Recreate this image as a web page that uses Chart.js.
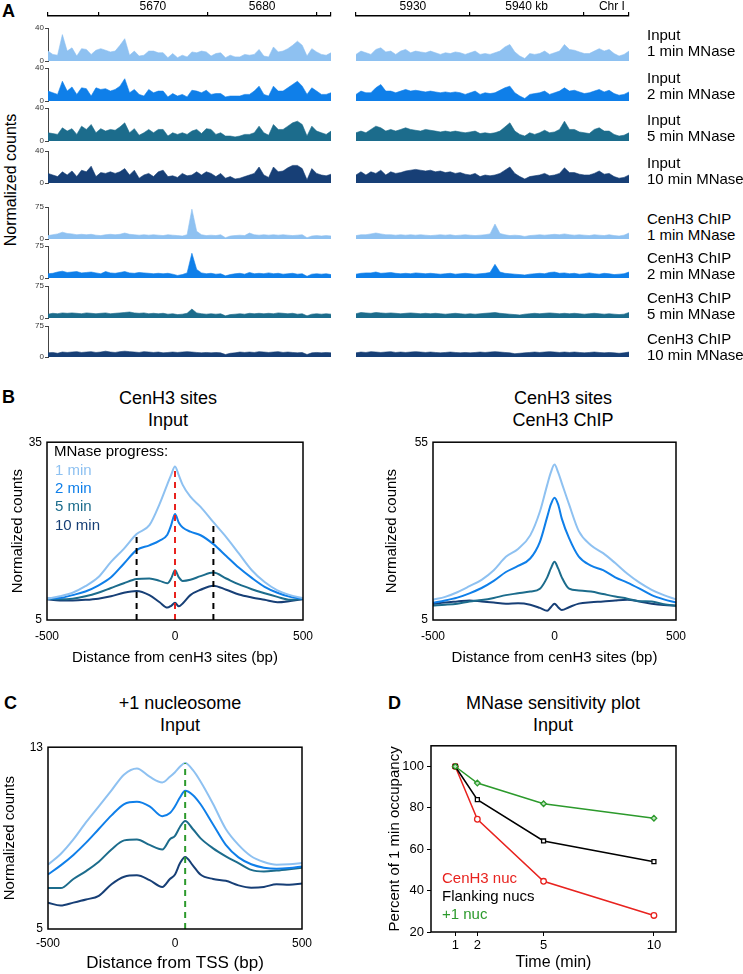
<!DOCTYPE html>
<html>
<head>
<meta charset="utf-8">
<title>MNase sensitivity of CenH3 nucleosomes</title>
<script src="https://cdn.jsdelivr.net/npm/chart.js@4.4.1/dist/chart.umd.min.js"></script>
<style>
  body { margin: 0; background: #fff; font-family: 'Liberation Sans', Arial, Helvetica, sans-serif; }
  #figure { position: relative; width: 743px; height: 974px; overflow: hidden; background: #fff; }
  #figure canvas { position: absolute; }
  .txt { position: absolute; white-space: nowrap; line-height: 1; color: #000; }
</style>
</head>
<body>
<div id="figure"></div>
<script>
// ---------- data ----------

// panel A: genome browser tracks (normalized counts per bin)
const inputTrackTicks = [0, 40];
const chipTrackTicks = [0, 75];

const leftInput1 = [12,8,7,32,12,16,6,15,14,8, 13,15,13,11,12,19,27,7,12,6, 7,12,12,10,10,4,9,4,7,5, 11,10,12,11,6,9,10,4,7,5, 5,8,7,8,14,6,5,17,11,12, 15,19,24,19,6,15,11,8,7,10];
const leftInput2 = [12,10,8,24,12,17,8,16,15,6, 16,14,15,12,14,18,27,10,14,8, 6,14,10,12,12,5,9,6,8,5, 13,12,10,13,8,9,9,5,6,6, 6,8,8,12,18,8,6,18,12,12, 16,20,24,18,8,16,12,8,8,10];
const leftInput5 = [10,9,8,16,12,15,8,18,14,20, 10,15,12,14,13,17,22,10,15,7, 10,14,10,14,14,6,10,8,10,8, 12,14,9,15,14,8,10,6,6,5, 6,8,8,10,18,10,7,20,14,14, 18,22,24,20,6,18,12,10,8,12];
const leftInput10 = [12,10,8,14,10,15,8,16,14,21, 8,13,12,14,12,14,18,10,16,6, 10,12,8,14,16,8,9,7,12,9, 10,14,10,14,12,8,12,6,8,5, 6,8,10,12,20,10,7,20,14,15, 19,22,22,18,4,18,12,10,9,11];

const rightInput1 = [8,12,10,8,14,16,11,12,8,12, 14,10,12,11,10,12,10,8,10,9, 11,10,8,10,12,8,9,8,10,12, 17,20,11,6,3,9,8,9,12,8, 10,12,20,14,13,11,9,9,12,15, 12,14,9,6,8,12];
const rightInput2 = [8,12,10,10,16,20,12,12,10,12, 14,12,13,12,11,12,11,10,11,10, 11,10,8,10,12,8,10,9,10,13, 16,18,10,6,3,8,9,10,12,8, 10,12,16,12,13,11,9,10,12,14, 11,13,9,7,8,11];
const rightInput5 = [10,12,10,14,18,16,12,14,12,14, 16,14,13,12,14,13,12,11,12,11, 12,11,10,11,12,9,10,9,10,12, 17,22,12,8,6,10,8,10,13,10, 11,14,24,14,14,11,10,9,14,16, 12,12,8,6,7,10];
const rightInput10 = [10,14,10,14,12,16,10,14,12,13, 15,16,17,16,15,16,14,15,13,14, 12,13,11,10,12,8,10,9,10,12, 16,20,12,8,5,8,9,10,12,9, 10,12,19,13,13,11,10,10,12,15, 11,12,8,6,7,10];

const leftChip1 = [8,10,12,16,13,12,10,11,10,11, 9,8,10,11,10,11,14,11,10,9, 10,9,10,9,8,10,9,8,7,10, 70,18,10,8,9,8,10,3,7,8, 9,8,14,10,9,10,9,10,9,10, 9,8,9,10,3,7,8,7,8,7];
const leftChip2 = [10,11,14,16,13,14,15,12,13,14, 12,10,15,12,11,13,15,12,11,13, 12,11,10,11,10,11,9,6,8,12, 58,20,12,10,11,9,10,5,8,10, 11,9,13,10,11,10,12,10,11,9, 10,11,9,10,4,9,10,9,10,8];
const leftChip5 = [9,11,10,12,11,12,11,10,12,11, 10,11,12,10,11,12,13,14,12,11, 12,10,11,10,11,9,10,8,9,11, 21,12,10,9,10,9,10,5,8,9, 10,9,11,10,11,10,11,10,12,11, 10,11,9,10,5,9,10,9,10,9];
const leftChip10 = [10,11,9,12,11,12,13,11,12,13, 11,12,14,12,11,13,14,13,12,11, 13,12,11,12,10,11,12,11,12,13, 12,11,10,11,10,11,10,6,9,10, 12,11,12,11,13,12,11,12,13,11, 12,11,10,11,6,10,11,10,11,10];

const rightChip1 = [8,10,10,12,14,12,10,10,9,10, 9,10,9,10,9,8,9,10,9,10, 8,9,10,9,8,9,10,12,35,13, 10,8,9,8,6,8,9,10,9,10, 11,10,12,10,9,10,9,8,10,9, 8,10,8,7,9,14];
const rightChip2 = [9,11,12,12,14,11,12,13,11,10, 11,10,12,11,10,11,10,9,10,11, 9,10,11,10,9,10,11,13,32,14, 11,10,9,8,7,9,10,11,10,13, 14,11,12,10,11,9,10,12,10,9, 11,10,8,9,10,14];
const rightChip5 = [10,13,12,11,13,12,11,12,11,10, 11,12,11,10,11,10,11,10,9,10, 11,10,9,10,9,10,11,12,13,11, 10,9,8,7,9,10,11,10,11,12, 11,10,11,10,11,10,9,10,11,10, 9,10,9,8,9,13];
const rightChip10 = [10,12,11,13,12,11,12,13,11,12, 11,12,13,12,11,12,11,10,11,12, 11,10,11,10,11,12,11,12,13,12, 11,10,8,9,10,11,12,11,12,13, 12,11,12,11,12,11,10,11,12,11, 10,11,10,9,10,12];

// chromosome ruler (kb)
const rulerLeftRange = [5660.4, 5686.3];
const rulerLeftMarks = [5660.4, 5665, 5675, 5685, 5686.3];
const rulerLeftLabelPos = [5670, 5680];
const rulerLeftLabelText = ['5670', '5680'];
const rulerRightRange = [5925, 5949];
const rulerRightMarks = [5925, 5935, 5945, 5949];
const rulerRightLabelPos = [5930, 5940, 5947.5];
const rulerRightLabelText = ['5930', '5940 kb', 'Chr I'];

const mnaseTimes = ['1 min', '2 min', '5 min', '10 min'];

// panel B: average profiles around cenH3 sites
const cenPositions = [-500,-450,-400,-350,-300,-250,-200,-150,-100,-60,-30,-15,0,15,30,60,100,150,200,250,300,350,400,450,500];
const cenInput1 = [8.6,9.0,9.6,10.7,12.2,14.8,17.0,19.5,21.0,24.6,27.9,29.5,30.9,29.4,27.8,25.8,24.1,21.5,19.0,16.2,13.4,11.4,10.0,9.2,8.7];
const cenInput2 = [8.6,8.7,9.2,9.8,10.8,12.2,14.5,16.8,17.6,18.4,19.4,21.0,22.9,21.4,20.6,19.9,19.3,17.8,15.8,13.8,12.1,10.6,9.6,8.9,8.6];
const cenInput5 = [8.6,8.5,8.6,9.0,9.6,10.4,11.2,11.9,12.0,11.6,11.2,12.0,13.4,12.2,11.6,11.8,12.4,13.0,12.0,11.0,10.2,9.5,8.9,8.4,8.6];
const cenInput10 = [8.5,8.3,8.3,8.4,8.6,9.0,9.6,9.9,9.2,8.0,7.1,7.4,7.9,7.3,7.8,9.2,10.1,10.8,10.1,9.3,8.8,8.4,8.0,8.2,8.5];
const cenChip1 = [10.7,11.5,12.8,14.5,16.3,19.0,22.8,25.0,28.8,35.5,43.0,46.5,48.7,46.5,43.5,37.5,30.0,26.0,23.8,21.0,18.0,15.5,13.5,12.0,10.8];
const cenChip2 = [9.9,10.5,11.3,12.5,14.0,16.0,18.5,20.2,22.3,27.0,34.0,37.5,39.4,37.5,33.5,28.0,22.8,20.3,19.0,17.0,15.5,13.8,12.0,10.8,9.9];
const cenChip5 = [9.1,9.3,9.6,10.2,10.6,11.2,12.0,12.5,13.0,13.8,17.0,19.5,21.4,19.5,17.0,13.8,13.3,13.0,12.3,11.6,11.0,10.3,10.2,9.4,9.1];
const cenChip10 = [9.5,9.9,10.2,10.5,10.2,9.9,9.6,9.7,9.3,8.4,7.6,8.6,9.6,8.6,7.8,8.6,9.6,10.0,10.2,10.5,10.7,10.2,9.6,9.2,9.0];
const cenInputYTicks = [5, 35];
const cenChipYTicks = [5, 55];
const cenMark = 0;
const flankMarks = [-150, 150];

// panel C: average profiles around TSS
const tssPositions = [-500,-450,-400,-350,-300,-250,-200,-150,-100,-50,-20,0,20,40,70,100,150,200,250,300,350,400,450,500];
const tss1 = [7.83,8.3,8.94,9.7,10.4,11.1,11.8,12.06,11.7,11.45,11.7,11.9,12.15,12.3,12.0,11.5,10.5,9.4,8.7,8.2,7.95,7.83,7.85,7.9];
const tss2 = [7.4,7.8,8.26,8.8,9.4,10.0,10.5,10.6,10.4,9.96,10.1,10.4,10.8,11.08,10.9,10.5,9.6,8.7,8.15,7.85,7.7,7.65,7.68,7.75];
const tss5 = [6.8,6.8,7.2,7.55,7.96,8.5,8.9,8.94,8.7,8.5,8.95,9.1,9.5,9.75,9.4,9.0,8.55,8.2,7.9,7.6,7.53,7.57,7.63,7.7];
const tss10 = [6.16,6.03,6.16,6.3,6.46,6.97,7.3,7.36,7.15,6.85,7.2,7.4,7.9,8.17,7.8,7.4,7.2,7.12,6.92,6.82,6.85,6.97,6.95,7.0];
const tssYTicks = [5, 13];
const plusOneMark = 40;
const profileXTicks = [-500, 0, 500];

// panel D: MNase sensitivity
const timePoints = [1, 2, 5, 10];
const cenH3Occupancy = [100, 74.5, 44.5, 28];
const flankingOccupancy = [100, 84, 64, 54];
const plusOneOccupancy = [100, 92, 82, 75];
const occupancyYTicks = [20, 40, 60, 80, 100];
const sensitivityLabels = ['CenH3 nuc', 'Flanking nucs', '+1 nuc'];

(function(){

    const FONT = "'Liberation Sans', Arial, Helvetica, sans-serif";
    const mnaseColors = ['#8ec1f1', '#0f7fe9', '#1c6c8c', '#173f76'];
    const sensColors = ['#e8231f', '#000000', '#2c9a2c'];

    var _figure = undefined;

    // full black frame round the plot area
    const _boxPlugin = {
        id: 'box',
        afterDatasetsDraw(chart){
            let a = chart.chartArea;
            let ctx = chart.ctx;
            ctx.save();
            ctx.strokeStyle = '#000';
            ctx.lineWidth = 1.5;
            ctx.strokeRect(a.left, a.top, a.right - a.left, a.bottom - a.top);
            ctx.restore();
        }
    };

    function _makeCanvas(left, top, width, height){
        let c = document.createElement('canvas');
        c.width = width;
        c.height = height;
        c.style.left = left + 'px';
        c.style.top = top + 'px';
        c.style.width = width + 'px';
        c.style.height = height + 'px';
        _figure.appendChild(c);
        return c.getContext('2d');
    }

    function _text(str, x, y, size, color, align, weight, rotate){
        let d = document.createElement('div');
        d.className = 'txt';
        d.textContent = str;
        d.style.left = x + 'px';
        d.style.top = y + 'px';
        d.style.fontSize = size + 'px';
        d.style.color = color || '#000';
        if(weight){
            d.style.fontWeight = weight;
        }
        let tx = align === 'left' ? '0' : '-50%';
        d.style.transform = 'translate(' + tx + ',-50%)' + (rotate ? ' rotate(-90deg)' : '');
        _figure.appendChild(d);
    }

    function _baseOptions(padding){
        return {
            responsive: false,
            animation: false,
            devicePixelRatio: 1,
            events: [],
            layout: { padding: padding },
            plugins: { legend: { display: false }, tooltip: { enabled: false }, title: { display: false } }
        };
    }

    // ---------- panel A ----------

    function _drawRuler(side, range, marks, labelPos, labelText){
        let isLeft = side === 'left';
        let ctx = _makeCanvas(isLeft ? 20 : 352, 0, isLeft ? 315 : 281, 24);
        let allTicks = marks.concat(labelPos).sort((a, b) => a - b);
        let options = _baseOptions({ left: isLeft ? 28 : 4, right: 4, top: 0, bottom: 0 });
        options.scales = {
            x: {
                type: 'linear',
                position: 'top',
                min: range[0],
                max: range[1],
                afterFit: s => { s.height = 16; },
                afterBuildTicks: s => { s.ticks = allTicks.map(v => ({ value: v })); },
                grid: {
                    drawOnChartArea: false,
                    tickLength: 4,
                    lineWidth: 1.2,
                    color: c => (c.tick && labelPos.indexOf(c.tick.value) >= 0) ? 'rgba(0,0,0,0)' : '#000'
                },
                border: { display: true, color: '#000', width: 1.5 },
                ticks: {
                    autoSkip: false,
                    maxRotation: 0,
                    padding: -2,
                    font: { size: 12, family: FONT },
                    callback: v => {
                        let k = labelPos.indexOf(v);
                        return k >= 0 ? labelText[k] : '';
                    }
                }
            },
            y: { display: false, min: 0, max: 1 }
        };
        new Chart(ctx, { type: 'line', data: { datasets: [] }, options: options });
    }

    function _drawTrack(values, color, yTicks, rowY, side){
        let isLeft = side === 'left';
        let top = rowY[0], bottom = rowY[1];
        let ctx = _makeCanvas(isLeft ? 20 : 352, top - 8, isLeft ? 315 : 281, bottom - top + 14);
        let options = _baseOptions({ left: isLeft ? 0 : 4, right: 4, top: 8, bottom: 6 });
        let yScale = {
            display: isLeft,
            min: yTicks[0],
            max: yTicks[yTicks.length - 1],
            afterBuildTicks: s => { s.ticks = yTicks.map(v => ({ value: v })); },
            grid: { drawOnChartArea: false, tickLength: 3, color: '#444' },
            border: { display: true, color: '#444', width: 1 },
            ticks: { font: { size: 8, family: FONT }, padding: 1, color: '#333' }
        };
        if(isLeft){
            yScale.afterFit = s => { s.width = 28; };
        }
        options.scales = {
            x: { type: 'category', display: false, offset: false },
            y: yScale
        };
        new Chart(ctx, {
            type: 'line',
            data: {
                labels: values.map((v, i) => i),
                datasets: [{
                    data: values,
                    borderColor: color,
                    backgroundColor: color,
                    borderWidth: 0.6,
                    fill: 'origin',
                    pointRadius: 0,
                    tension: 0
                }]
            },
            options: options
        });
    }

    function _drawPanelA(){
        _text('A', 2, 11, 18, '#000', 'left', 'bold');
        _drawRuler('left', rulerLeftRange, rulerLeftMarks, rulerLeftLabelPos, rulerLeftLabelText);
        _drawRuler('right', rulerRightRange, rulerRightMarks, rulerRightLabelPos, rulerRightLabelText);

        let inputRows = [[28, 61], [68, 101], [108, 141], [151, 183]];
        let chipRows = [[207, 239], [246, 278], [286, 318], [326, 357]];
        let inputLabelY = [42, 85, 127, 170];
        let chipLabelY = [226, 265, 305, 346];

        let leftInputs = [leftInput1, leftInput2, leftInput5, leftInput10];
        let rightInputs = [rightInput1, rightInput2, rightInput5, rightInput10];
        let leftChips = [leftChip1, leftChip2, leftChip5, leftChip10];
        let rightChips = [rightChip1, rightChip2, rightChip5, rightChip10];

        for(let k = 0; k < 4; k++){
            _drawTrack(leftInputs[k], mnaseColors[k], inputTrackTicks, inputRows[k], 'left');
            _drawTrack(rightInputs[k], mnaseColors[k], inputTrackTicks, inputRows[k], 'right');
            _text('Input', 647, inputLabelY[k] - 8, 15, '#000', 'left');
            _text(mnaseTimes[k] + ' MNase', 647, inputLabelY[k] + 8, 15, '#000', 'left');
        }
        for(let k = 0; k < 4; k++){
            _drawTrack(leftChips[k], mnaseColors[k], chipTrackTicks, chipRows[k], 'left');
            _drawTrack(rightChips[k], mnaseColors[k], chipTrackTicks, chipRows[k], 'right');
            _text('CenH3 ChIP', 647, chipLabelY[k] - 8, 15, '#000', 'left');
            _text(mnaseTimes[k] + ' MNase', 647, chipLabelY[k] + 8, 15, '#000', 'left');
        }
        _text('Normalized counts', 11, 180, 16, '#000', 'center', null, true);
    }

    // ---------- panels B and C ----------

    function _markLine(x, yBottom, yTop, color){
        return {
            data: [{ x: x, y: yBottom }, { x: x, y: yTop }],
            borderColor: color,
            borderWidth: 2,
            borderDash: [6, 5],
            pointRadius: 0,
            fill: false
        };
    }

    function _drawProfile(p){
        let rect = p.rect, plot = p.plot;
        let ctx = _makeCanvas(rect[0], rect[1], rect[2], rect[3]);
        let yMin = p.yTicks[0], yMax = p.yTicks[p.yTicks.length - 1];

        let datasets = [];
        p.marks.forEach(m => {
            let top = p.series[0][p.positions.indexOf(m.x)];
            datasets.push(_markLine(m.x, yMin, top, m.color));
        });
        p.series.forEach((vals, k) => {
            datasets.push({
                data: p.positions.map((x, i) => ({ x: x, y: vals[i] })),
                borderColor: mnaseColors[k],
                borderWidth: 2,
                pointRadius: 0,
                fill: false,
                cubicInterpolationMode: 'monotone'
            });
        });

        let yTitleSize = 15, xTitleSize = p.xTitleSize;
        let options = _baseOptions({
            left: 0,
            top: plot[1] - rect[1],
            right: rect[0] + rect[2] - plot[2],
            bottom: 0
        });
        options.scales = {
            x: {
                type: 'linear',
                min: profileXTicks[0],
                max: profileXTicks[profileXTicks.length - 1],
                afterFit: s => { s.height = rect[1] + rect[3] - plot[3]; },
                afterBuildTicks: s => { s.ticks = profileXTicks.map(v => ({ value: v })); },
                grid: { display: false, drawTicks: false },
                border: { display: false },
                ticks: { autoSkip: false, maxRotation: 0, padding: p.xTickPad, font: { size: 12, family: FONT }, callback: v => String(v) },
                title: {
                    display: true,
                    text: p.xTitle,
                    font: { size: xTitleSize, family: FONT },
                    padding: { top: 0, bottom: rect[1] + rect[3] - p.xTitleY - xTitleSize * 0.6 }
                }
            },
            y: {
                min: yMin,
                max: yMax,
                afterFit: s => { s.width = plot[0] - rect[0]; },
                afterBuildTicks: s => { s.ticks = p.yTicks.map(v => ({ value: v })); },
                grid: { display: false, drawTicks: false },
                border: { display: false },
                ticks: { padding: 5, font: { size: 12, family: FONT } },
                title: {
                    display: true,
                    text: 'Normalized counts',
                    font: { size: yTitleSize, family: FONT },
                    padding: { top: p.yTitleX - rect[0] - yTitleSize * 0.6, bottom: 0 }
                }
            }
        };
        new Chart(ctx, { type: 'line', data: { datasets: datasets }, options: options, plugins: [_boxPlugin] });
    }

    function _drawPanelB(){
        _text('B', 2, 397, 18, '#000', 'left', 'bold');
        _text('CenH3 sites', 168, 398, 18);
        _text('Input', 168, 420, 18);
        _text('CenH3 sites', 563, 398, 18);
        _text('CenH3 ChIP', 563, 420, 18);

        _drawProfile({
            rect: [0, 430, 330, 240],
            plot: [47, 437, 303, 620],
            positions: cenPositions,
            series: [cenInput1, cenInput2, cenInput5, cenInput10],
            yTicks: cenInputYTicks,
            marks: [
                { x: cenMark, color: '#e8231f' },
                { x: flankMarks[0], color: '#000' },
                { x: flankMarks[1], color: '#000' }
            ],
            xTitle: 'Distance from cenH3 sites (bp)',
            xTitleSize: 15,
            xTitleY: 658,
            yTitleX: 18,
            xTickPad: 9
        });
        _drawProfile({
            rect: [370, 430, 373, 240],
            plot: [433, 437, 676, 620],
            positions: cenPositions,
            series: [cenChip1, cenChip2, cenChip5, cenChip10],
            yTicks: cenChipYTicks,
            marks: [],
            xTitle: 'Distance from cenH3 sites (bp)',
            xTitleSize: 15,
            xTitleY: 658,
            yTitleX: 392,
            xTickPad: 9
        });

        _text('MNase progress:', 54, 450, 15, '#000', 'left');
        let legendY = [469, 487, 505, 524];
        for(let k = 0; k < mnaseTimes.length; k++){
            _text(mnaseTimes[k], 55, legendY[k], 15, mnaseColors[k], 'left');
        }
    }

    function _drawPanelC(){
        _text('C', 4, 703, 18, '#000', 'left', 'bold');
        _text('+1 nucleosome', 180, 703, 18);
        _text('Input', 180, 725, 18);
        _drawProfile({
            rect: [0, 735, 330, 239],
            plot: [48, 742, 302, 929],
            positions: tssPositions,
            series: [tss1, tss2, tss5, tss10],
            yTicks: tssYTicks,
            marks: [{ x: plusOneMark, color: '#2c9a2c' }],
            xTitle: 'Distance from TSS (bp)',
            xTitleSize: 17,
            xTitleY: 963,
            yTitleX: 10,
            xTickPad: 7
        });
    }

    // ---------- panel D ----------

    function _drawPanelD(){
        _text('D', 388, 703, 18, '#000', 'left', 'bold');
        _text('MNase sensitivity plot', 553, 703, 18);
        _text('Input', 553, 725, 18);

        let rect = [370, 735, 373, 239], plot = [431, 742, 676, 932];
        let ctx = _makeCanvas(rect[0], rect[1], rect[2], rect[3]);
        let series = [plusOneOccupancy, flankingOccupancy, cenH3Occupancy];
        let colors = [sensColors[2], sensColors[1], sensColors[0]];
        let styles = ['rectRot', 'rect', 'circle'];
        let fills = ['#bfe3bf', '#ffffff', '#ffffff'];

        let datasets = series.map((vals, k) => ({
            data: timePoints.map((t, i) => ({ x: t, y: vals[i] })),
            borderColor: colors[k],
            borderWidth: 1.5,
            pointStyle: styles[k],
            pointRadius: 2.8,
            pointBackgroundColor: fills[k],
            pointBorderColor: colors[k],
            pointBorderWidth: 1.3,
            fill: false,
            tension: 0
        }));

        let options = _baseOptions({ left: 0, top: plot[1] - rect[1], right: rect[0] + rect[2] - plot[2], bottom: 0 });
        options.scales = {
            x: {
                type: 'linear',
                min: -0.1,
                max: 11,
                afterFit: s => { s.height = rect[1] + rect[3] - plot[3]; },
                afterBuildTicks: s => { s.ticks = timePoints.map(v => ({ value: v })); },
                grid: { drawOnChartArea: false, tickLength: 4, color: '#000', lineWidth: 1 },
                border: { display: false },
                ticks: { autoSkip: false, maxRotation: 0, padding: 2, font: { size: 13, family: FONT } },
                title: { display: true, text: 'Time (min)', font: { size: 16, family: FONT }, padding: { top: 0, bottom: 1.5 } }
            },
            y: {
                min: 20,
                max: 110,
                afterFit: s => { s.width = plot[0] - rect[0]; },
                afterBuildTicks: s => { s.ticks = occupancyYTicks.map(v => ({ value: v })); },
                grid: { drawOnChartArea: false, tickLength: 4, color: '#000', lineWidth: 1 },
                border: { display: false },
                ticks: { padding: 3, font: { size: 13, family: FONT } },
                title: { display: true, text: 'Percent of 1 min occupancy', font: { size: 15, family: FONT }, padding: { top: 16, bottom: 0 } }
            }
        };
        new Chart(ctx, { type: 'line', data: { datasets: datasets }, options: options, plugins: [_boxPlugin] });

        let legendY = [877, 895, 913];
        for(let k = 0; k < sensitivityLabels.length; k++){
            _text(sensitivityLabels[k], 442, legendY[k], 15, sensColors[k], 'left');
        }
    }

    function _drawFigure(){
        _figure = document.getElementById('figure');
        Chart.defaults.font.family = FONT;
        Chart.defaults.color = '#000';
        _drawPanelA();
        _drawPanelB();
        _drawPanelC();
        _drawPanelD();
    }

    window.onload = function(){
        _drawFigure();
    };

})();
</script>
</body>
</html>
